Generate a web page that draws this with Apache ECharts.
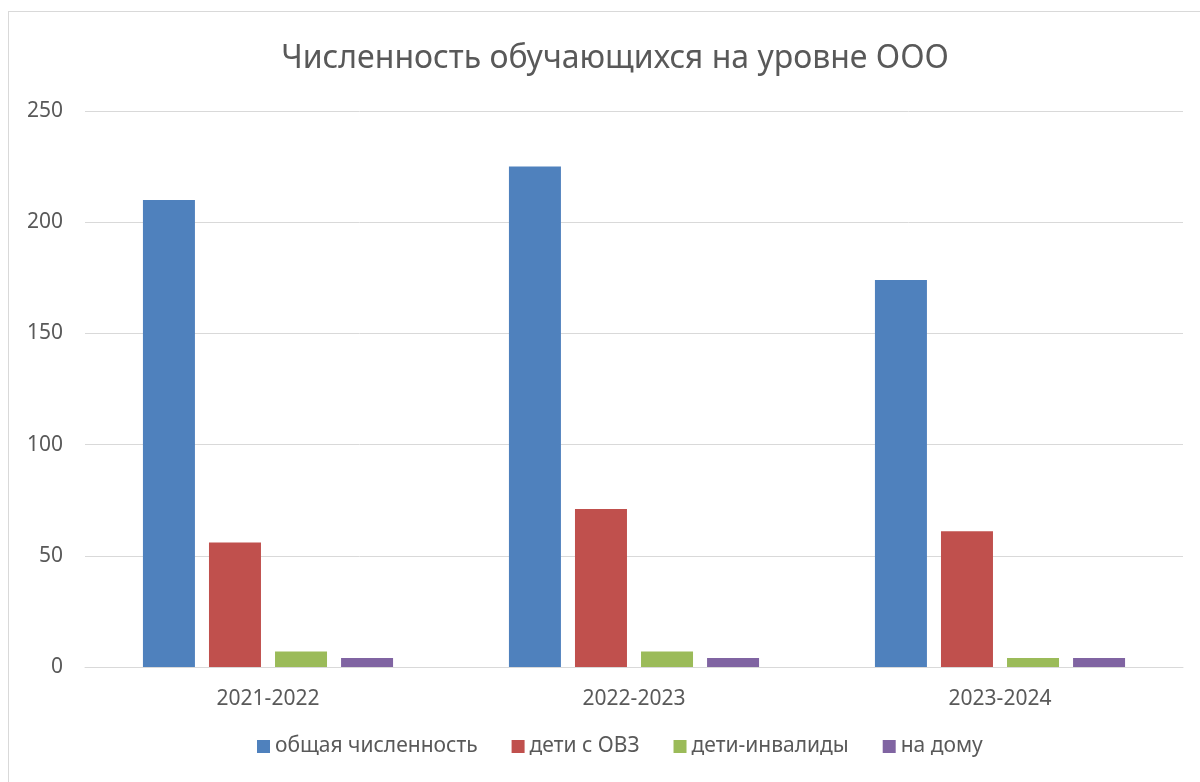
<!DOCTYPE html>
<html>
<head>
<meta charset="utf-8">
<script src="https://cdn.jsdelivr.net/npm/echarts@6/dist/echarts.min.js"></script>
<style>
  html, body { margin: 0; padding: 0; background: #fff; }
  #frame {
    position: absolute; left: 8px; top: 11px;
    width: 1250px; height: 800px;
    border: 1px solid #d9d9d9;
  }
  #chart { position: absolute; left: 0; top: 0; width: 1200px; height: 782px; }
</style>
</head>
<body>
<div id="frame"></div>
<div id="chart"></div>
<script>
// учебные годы
const years = ['2021-2022', '2022-2023', '2023-2024']
const seriesNames = ['общая численность', 'дети с ОВЗ', 'дети-инвалиды', 'на дому']
const total = [210, 225, 174]
const ovz = [56, 71, 61]
const invalid = [7, 7, 4]
const home = [4, 4, 4]
const colors = ['#4f81bd', '#c0504d', '#9bbb59', '#8064a2']

const font = 'Noto Sans'
const txt = '#595959'

let myChart = echarts.init(document.getElementById('chart'))

let option = {
  animation: false,
  title: {
    text: 'Численность обучающихся на уровне ООО',
    left: 610,
    textAlign: 'center',
    top: 38,
    textStyle: { fontFamily: font, fontSize: 32, fontWeight: 'normal', color: txt }
  },
  legend: {
    data: seriesNames,
    bottom: 20,
    left: 252,
    icon: 'rect',
    itemWidth: 13,
    itemHeight: 13,
    itemGap: 34,
    textStyle: { fontFamily: font, fontSize: 21, color: txt }
  },
  grid: { left: 85, right: 17, top: 111, bottom: 115 },
  xAxis: {
    type: 'category',
    data: years,
    axisLine: { lineStyle: { color: '#d9d9d9', width: 1 } },
    axisTick: { show: false },
    axisLabel: { fontFamily: font, fontSize: 21, color: txt, margin: 22 }
  },
  yAxis: {
    type: 'value',
    min: 0,
    max: 250,
    interval: 50,
    axisLine: { show: false },
    axisTick: { show: false },
    axisLabel: { fontFamily: font, fontSize: 21, color: txt, margin: 22 },
    splitLine: { lineStyle: { color: '#d9d9d9', width: 1 } }
  },
  series: [total, ovz, invalid, home].map((d, i) => ({
    name: seriesNames[i],
    type: 'bar',
    data: d,
    barWidth: 52,
    barGap: '27%',
    itemStyle: { color: colors[i] }
  }))
}
myChart.setOption(option)
</script>
</body>
</html>
